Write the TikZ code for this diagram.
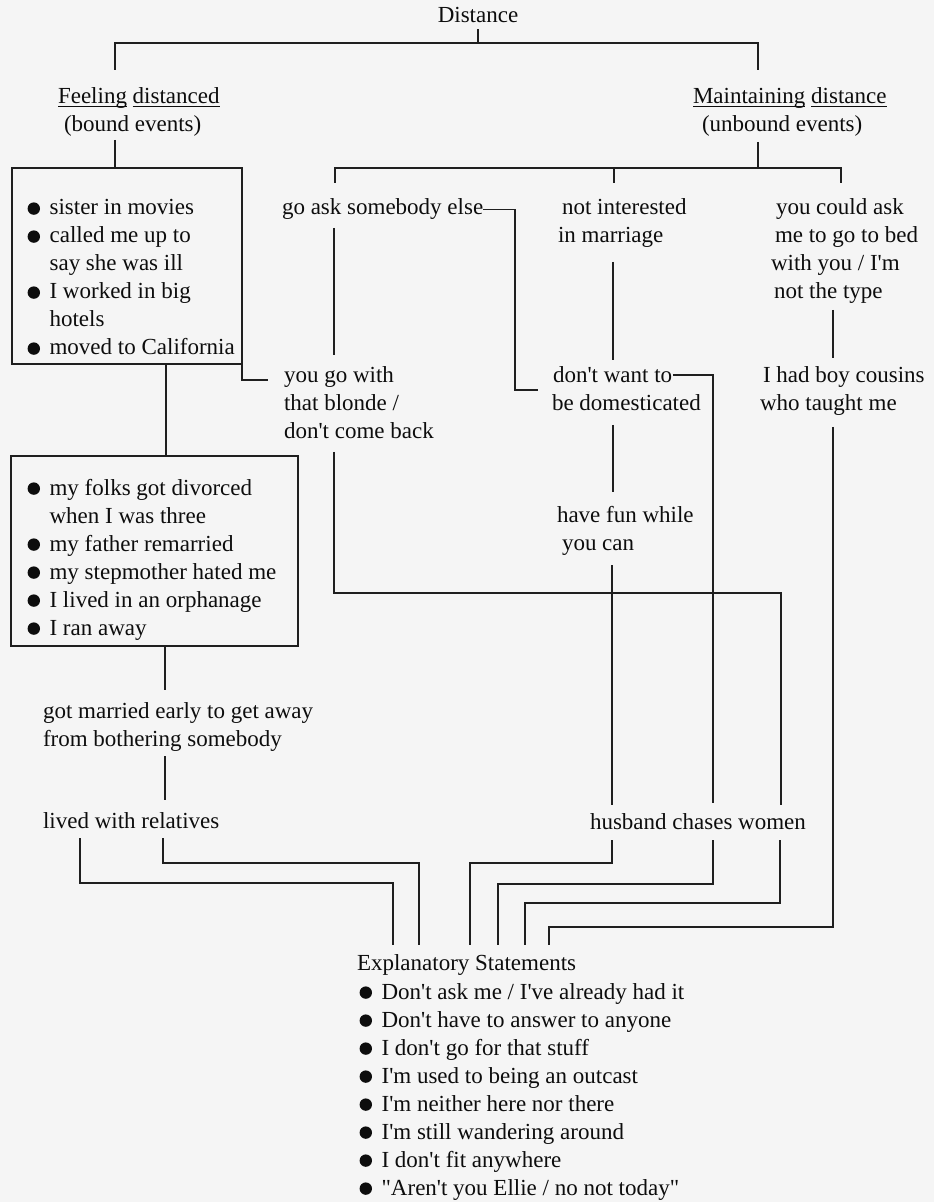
\documentclass[tikz,border=0pt]{standalone}
\usepackage{fontspec}
\setmainfont{Liberation Serif}
\newcommand\nitem{\hspace*{10.8pt}}
\newcommand\mlin[1]{\begin{tabular}[t]{@{}l@{}}#1\end{tabular}}
\newcommand\uln[1]{\underline{\raisebox{0pt}[\height][0pt]{#1}}}
\newcommand\apo{\textquotesingle}
\definecolor{bgc}{RGB}{245,245,245}
\begin{document}
\begin{tikzpicture}[x=0.5pt,y=-0.5pt,
  txt/.style={font=\fontsize{11.5}{14}\selectfont, inner sep=0pt, outer sep=0pt, anchor=base west, text=black!95},
  ln/.style={draw=black!88, line width=0.85pt},
  dot/.style={fill=black!95},
  boxed/.style={draw=black!88, line width=0.85pt, inner sep=0pt, outer sep=0pt, anchor=north west}]
\fill[bgc] (0,0) rectangle (934,1202);
\useasboundingbox (0,0) rectangle (934,1202);

% ---------- text nodes ----------
\node[txt, anchor=base] (dist) at (478,23) {Distance};
\node[txt] (feel) at (58,104) {\mlin{\uln{Feeling} \uln{distanced}\\ \hspace*{3pt}(bound events)}};
\node[txt] (maint) at (693,104) {\mlin{\uln{Maintaining} \uln{distance}\\ \hspace*{4.5pt}(unbound events)}};

\node[boxed, minimum width=115pt, minimum height=98pt] (box1) at (12,168) {};
\node[txt] (list1) at (28,215) {\mlin{\nitem sister in movies\\ \nitem called me up to\\ \nitem say she was ill\\ \nitem I worked in big\\ \nitem hotels\\ \nitem moved to California}};

\node[boxed, minimum width=143.5pt, minimum height=95pt] (box2) at (11,456) {};
\node[txt] (list2) at (28,495) {\mlin{\nitem my folks got divorced\\ \nitem when I was three\\ \nitem my father remarried\\ \nitem my stepmother hated me\\ \nitem I lived in an orphanage\\ \nitem I ran away}};

\node[txt] (goask) at (282,215) {go ask somebody else};
\node[txt] (marr) at (558,215) {\mlin{\hspace*{2pt}not interested\\ in marriage}};
\node[txt] (could) at (771,215) {\mlin{\hspace*{2.5pt}you could ask\\ \hspace*{2pt}me to go to bed\\ with you / I\apo{}m\\ \hspace*{1.5pt}not the type}};

\node[txt] (blonde) at (284,383) {\mlin{you go with\\ that blonde /\\ don\apo{}t come back}};
\node[txt] (domest) at (552,383) {\mlin{\hspace*{0.5pt}don\apo{}t want to\\ be domesticated}};
\node[txt] (cousins) at (760,383) {\mlin{\hspace*{1.5pt}I had boy cousins\\ who taught me}};

\node[txt] (fun) at (557,522) {\mlin{have fun while\\ \hspace*{2.5pt}you can}};
\node[txt] (married) at (43,718) {\mlin{got married early to get away\\ from bothering somebody}};
\node[txt] (rel) at (43,828) {lived with relatives};
\node[txt] (husb) at (590,829) {husband chases women};

\node[txt] (expl) at (357,970) {Explanatory Statements};
\node[txt] (stmts) at (360,999) {\mlin{\nitem Don\apo{}t ask me / I\apo{}ve already had it\\ \nitem Don\apo{}t have to answer to anyone\\ \nitem I don\apo{}t go for that stuff\\ \nitem I\apo{}m used to being an outcast\\ \nitem I\apo{}m neither here nor there\\ \nitem I\apo{}m still wandering around\\ \nitem I don\apo{}t fit anywhere\\ \nitem \textquotedbl{}Aren\apo{}t you Ellie / no not today\textquotedbl}};

% ---------- bullets ----------
\foreach \k in {0,1,3,5}
  \fill[dot] ([shift={(2.9pt,{3.2pt-14pt*\k})}]list1.base west) circle (3.1pt);
\foreach \k in {0,2,3,4,5}
  \fill[dot] ([shift={(2.9pt,{3.2pt-14pt*\k})}]list2.base west) circle (3.1pt);
\foreach \k in {0,...,7}
  \fill[dot] ([shift={(2.9pt,{3.2pt-14pt*\k})}]stmts.base west) circle (3.1pt);

% ---------- junction coordinates ----------
\coordinate (t0) at (478,43);
\coordinate (tL) at (115,70);
\coordinate (tR) at (758,70);
\coordinate (fL) at (115,140);
\coordinate (mT) at (758,142);
\coordinate (mJ) at (758,168);
\coordinate (dG) at (335,183);
\coordinate (dN) at (614,183);
\coordinate (dC) at (841,183);
\coordinate (bB) at (268,380);
\coordinate (g1) at (334,228);
\coordinate (g2) at (334,355);
\coordinate (e1) at (515,390);
\coordinate (e2) at (538,390);
\coordinate (n1) at (613,262);
\coordinate (n2) at (613,360);
\coordinate (y1) at (833,310);
\coordinate (y2) at (833,358);
\coordinate (w1) at (673,375);
\coordinate (w2) at (713,803);
\coordinate (f1) at (613,425);
\coordinate (f2) at (613,492);
\coordinate (k1) at (166,400);
\coordinate (h1) at (334,452);
\coordinate (h2) at (781,593);
\coordinate (h3) at (781,805);
\coordinate (u1) at (612,565);
\coordinate (u2) at (612,805);
\coordinate (c1) at (833,427);
\coordinate (c2) at (549,927);
\coordinate (c3) at (549,945);
\coordinate (k2) at (165,690);
\coordinate (r1) at (165,756);
\coordinate (r2) at (165,800);
\coordinate (s1) at (80,838);
\coordinate (s1b) at (393,883);
\coordinate (s1c) at (393,945);
\coordinate (s2) at (163,838);
\coordinate (s2b) at (419,863);
\coordinate (s2c) at (419,945);
\coordinate (p1) at (612,840);
\coordinate (p1b) at (470,863);
\coordinate (p1c) at (470,945);
\coordinate (p2) at (713,840);
\coordinate (p2b) at (498,884);
\coordinate (p2c) at (498,945);
\coordinate (p3) at (780,840);
\coordinate (p3b) at (525,903);
\coordinate (p3c) at (525,945);

% ---------- connectors ----------
\draw[ln] ([yshift=-3pt]dist.south) -- (t0);
\draw[ln] (tL) |- (t0) -| (tR);
\draw[ln] (fL) -- (box1.north -| fL);
\draw[ln] (mT) -- (mJ);
\draw[ln] (dG) |- (mJ) -| (dC);
\draw[ln] (dN) -- (dN |- mJ);
\draw[ln] (box1.south east) |- (bB);
\draw[ln] (g1) -- (g2);
\draw[ln] (goask.east) -| (e1) -- (e2);
\draw[ln] (n1) -- (n2);
\draw[ln] (y1) -- (y2);
\draw[ln] (w1) -| (w2);
\draw[ln] (f1) -- (f2);
\draw[ln] (box1.south -| k1) -- (box2.north -| k1);
\draw[ln] (h1) |- (h2) -- (h3);
\draw[ln] (u1) -- (u2);
\draw[ln] (c1) |- (c2) -- (c3);
\draw[ln] (box2.south -| k2) -- (k2);
\draw[ln] (r1) -- (r2);
\draw[ln] (s1) |- (s1b) -- (s1c);
\draw[ln] (s2) |- (s2b) -- (s2c);
\draw[ln] (p1) |- (p1b) -- (p1c);
\draw[ln] (p2) |- (p2b) -- (p2c);
\draw[ln] (p3) |- (p3b) -- (p3c);
\end{tikzpicture}
\end{document}
